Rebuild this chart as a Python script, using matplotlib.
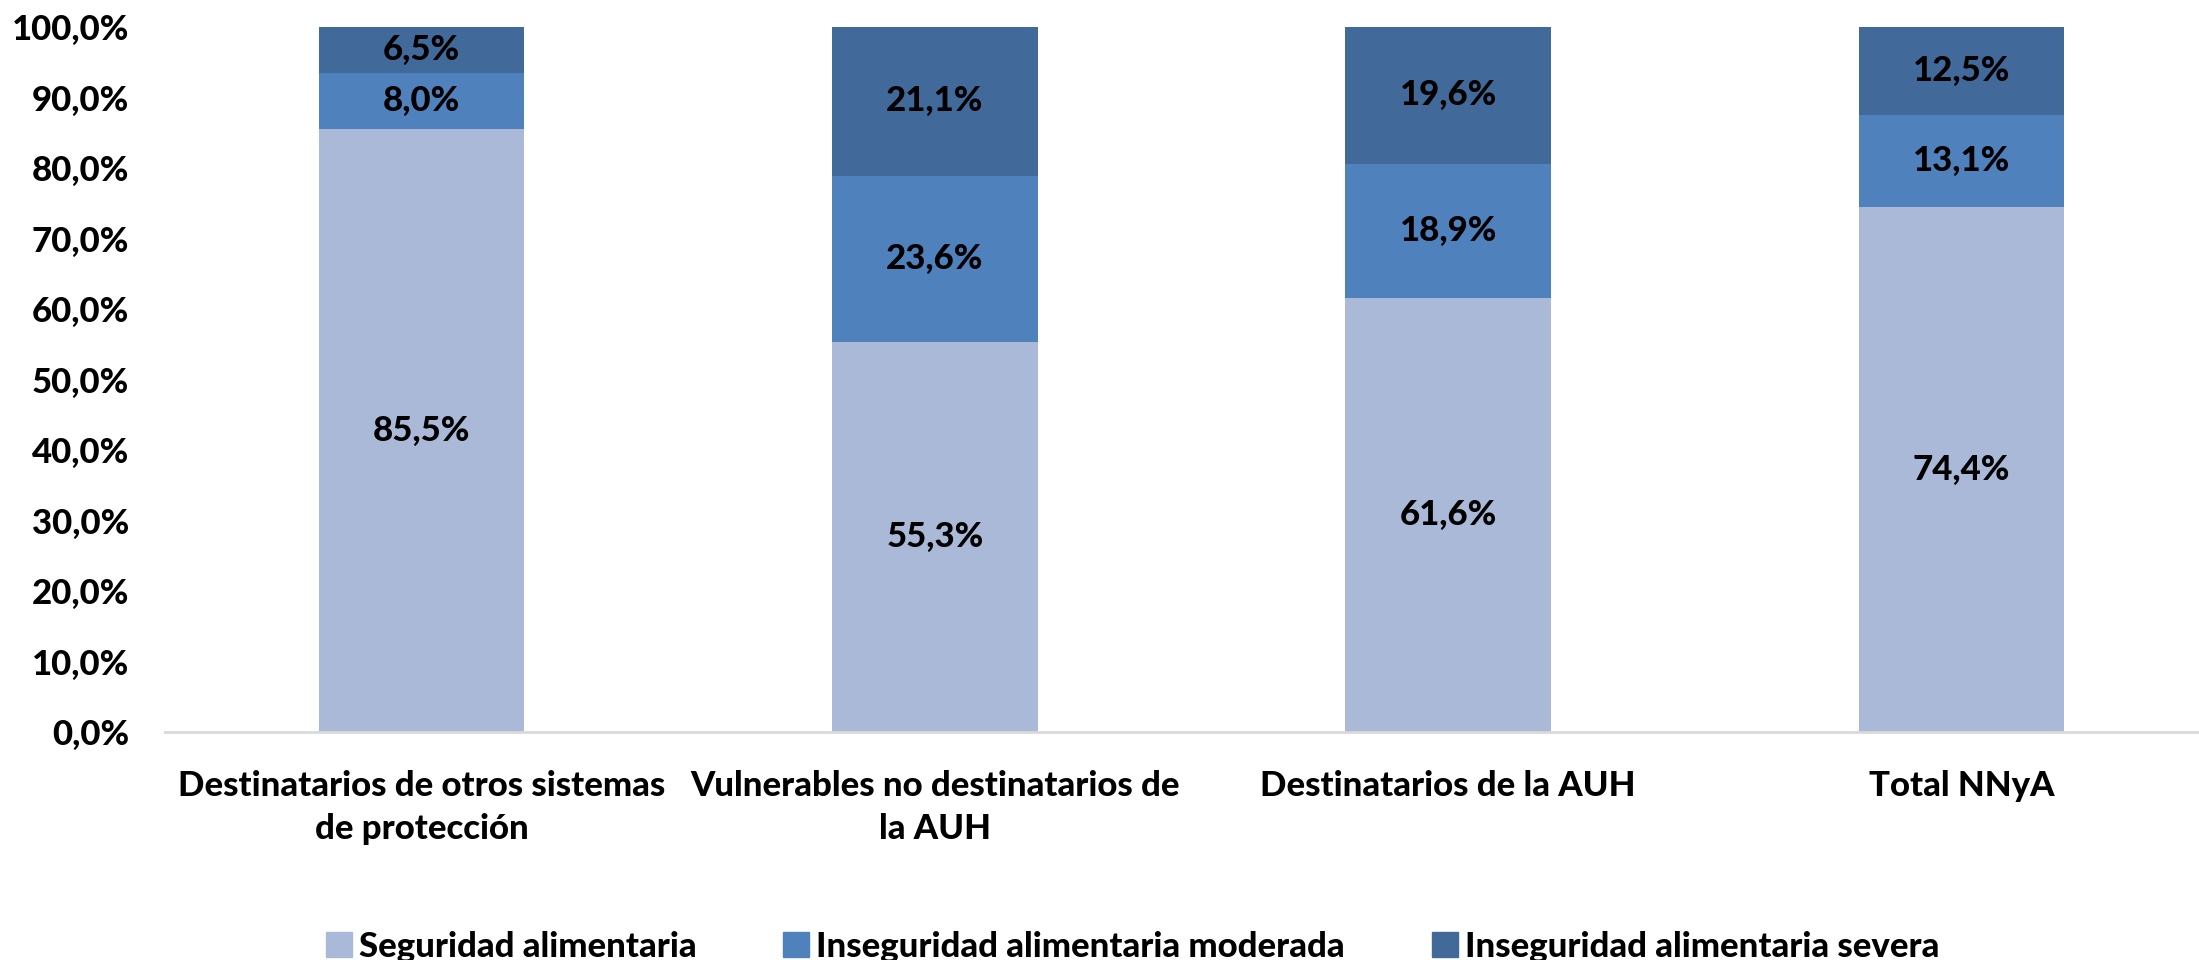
import matplotlib
matplotlib.use('Agg')
import matplotlib.pyplot as plt
import matplotlib.patches as mpatches
from matplotlib.ticker import FuncFormatter, MultipleLocator
import numpy as np

# Food security by group (percent of children and adolescents)
categories = ['Destinatarios de otros sistemas\nde protección',
              'Vulnerables no destinatarios de\nla AUH',
              'Destinatarios de la AUH',
              'Total NNyA']
series_names = ['Seguridad alimentaria',
                'Inseguridad alimentaria moderada',
                'Inseguridad alimentaria severa']
seguridad = [85.5, 55.3, 61.6, 74.4]
moderada = [8.0, 23.6, 18.9, 13.1]
severa = [6.5, 21.1, 19.6, 12.5]

colors = ['#AAB9D7', '#4F81BD', '#416A9B']

plt.rcParams['font.family'] = ['Lato', 'DejaVu Sans']
WT = 'black'
FS = 25

W, H = 2199, 960
fig = plt.figure(figsize=(W / 100, H / 100), dpi=100)
ax = fig.add_axes([165 / W, 1 - 732 / H, (2218 - 165) / W, (732 - 27) / H])

x = np.arange(len(categories))
bottom = np.zeros(len(categories))
for vals, col in zip([seguridad, moderada, severa], colors):
    vals = np.array(vals)
    ax.bar(x, vals, width=0.40, bottom=bottom, color=col, zorder=2)
    for xi, b, v in zip(x, bottom, vals):
        ax.text(xi, b + v / 2, f'{v:.1f}%'.replace('.', ','),
                ha='center', va='center', fontsize=FS, fontweight=WT,
                color='black', zorder=3)
    bottom += vals

ax.set_xlim(-0.5, len(categories) - 0.5)
ax.set_ylim(0, 100)
ax.yaxis.set_major_locator(MultipleLocator(10))
ax.yaxis.set_major_formatter(FuncFormatter(lambda v, p: f'{v:.1f}%'.replace('.', ',')))
ax.set_xticks(x)
ax.set_xticklabels(categories, fontsize=FS, fontweight=WT, linespacing=1.45)
for lbl in ax.get_yticklabels():
    lbl.set_fontweight(WT)

for s in ['top', 'right', 'left']:
    ax.spines[s].set_visible(False)
ax.spines['bottom'].set_color('#D9D9D9')
ax.spines['bottom'].set_linewidth(2)
ax.tick_params(axis='both', length=0, labelsize=FS)
ax.tick_params(axis='y', pad=26)
ax.tick_params(axis='x', pad=27)

handles = [mpatches.Patch(color=c, label=n) for c, n in zip(colors, series_names)]
fig.legend(handles=handles, loc='center', bbox_to_anchor=(0.515, 0.014), ncol=3,
           frameon=False, prop={'size': FS, 'weight': WT}, handlelength=0.75,
           handleheight=0.75, handletextpad=0.2, columnspacing=2.5, borderaxespad=0)

fig.savefig('out.png', dpi=100)
